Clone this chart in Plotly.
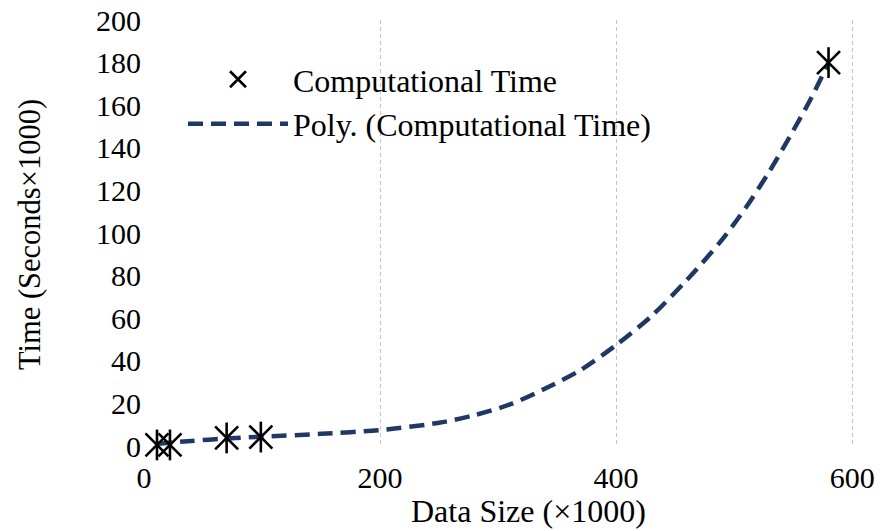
import plotly.graph_objects as go

# Data
data_size = [11, 22, 70, 99, 580]           # x1000
comp_time = [0.5, 0.5, 3.8, 4.2, 180]       # seconds x1000

# Polynomial trendline
trend_x = [11, 40, 70, 100, 150, 200, 250, 280, 310, 340, 370, 400, 430,
           460, 490, 510, 530, 550, 565, 580]
trend_y = [1.0, 2.4, 3.5, 4.4, 5.7, 7.5, 10.9, 14.5, 19.5, 27, 35.7, 47.4,
           61, 78, 97, 112, 129, 148, 163, 180]

x_ticks = [0, 200, 400, 600]
y_ticks = list(range(0, 201, 20))

FONT = "Liberation Serif, Times New Roman, serif"
NAVY = "#203864"

fig = go.Figure()
fig.add_trace(go.Scatter(
    x=trend_x, y=trend_y, mode="lines", name="Poly. (Computational Time)",
    line=dict(color=NAVY, width=4.5, dash="15px,8px", shape="spline",
              smoothing=0.8),
    cliponaxis=False, legendrank=2,
))
fig.add_trace(go.Scatter(
    x=data_size, y=comp_time, mode="markers", name="Computational Time",
    marker=dict(symbol="x-thin-open", size=23, color="black",
                line=dict(color="black", width=2.6)),
    cliponaxis=False, legendgroup="ct", legendrank=1,
))
fig.add_trace(go.Scatter(
    x=data_size, y=comp_time, mode="markers", name="Computational Time",
    marker=dict(symbol="line-ns-open", size=22, color="black",
                line=dict(color="black", width=2.6)),
    cliponaxis=False, legendgroup="ct", showlegend=False,
))

fig.update_layout(
    width=884, height=531,
    margin=dict(l=144, r=0, t=20, b=85),
    paper_bgcolor="white", plot_bgcolor="white",
    font=dict(family=FONT, size=30, color="black"),
    showlegend=True,
    legend=dict(
        x=(183 - 144) / 740, y=0.925, xanchor="left", yanchor="top",
        bgcolor="rgba(0,0,0,0)", borderwidth=0,
        font=dict(family=FONT, size=32, color="black"),
        itemwidth=100, tracegroupgap=0,
    ),
    xaxis=dict(
        range=[0, 627], tickvals=x_ticks, showline=False, zeroline=False,
        showgrid=True, gridcolor="#c4c4c4", gridwidth=1, griddash="4px,3px",
        ticks="", tickfont=dict(family=FONT, size=30), ticklabelstandoff=11,
    ),
    yaxis=dict(
        range=[0, 200], tickvals=y_ticks, showline=False, zeroline=False,
        showgrid=False, ticks="", tickfont=dict(family=FONT, size=30),
        ticklabelstandoff=2,
    ),
    annotations=[
        dict(text="Data Size (×1000)", xref="paper", yref="paper",
             x=(528 - 144) / 740, y=-(530 - 446) / 426, xanchor="center",
             yanchor="bottom", showarrow=False, borderpad=0,
             font=dict(family=FONT, size=32, color="black")),
        dict(text="Time (Seconds×1000)", xref="paper", yref="paper",
             x=-(144 - 30) / 740, y=(446 - 235) / 426, xanchor="center",
             yanchor="middle", textangle=-90, showarrow=False,
             font=dict(family=FONT, size=30.5, color="black")),
    ],
)

fig.write_html("out.html")
